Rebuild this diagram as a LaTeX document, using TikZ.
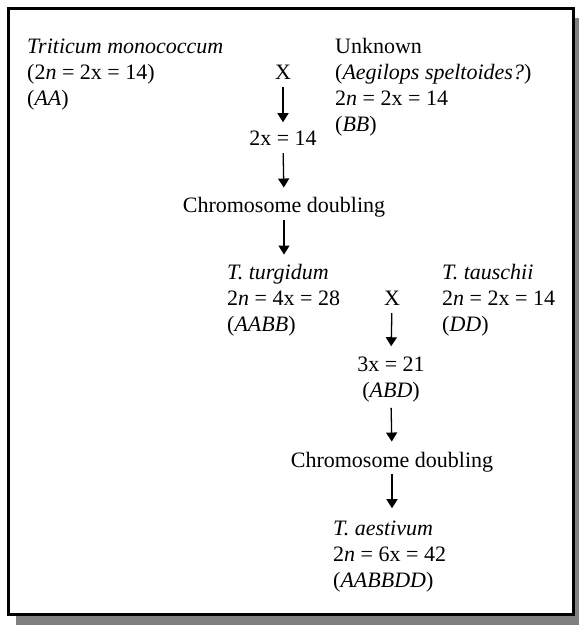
\documentclass[tikz,border=0pt]{standalone}
\usepackage{fontspec}
\setmainfont{Liberation Serif}
\usetikzlibrary{arrows.meta}
\begin{document}
\begin{tikzpicture}[x=1pt,y=-1pt,
  lbl/.style={inner sep=0pt, font=\fontsize{22}{26}\selectfont},
  grp/.style={lbl, align=left, anchor=base west},
  cgrp/.style={lbl, align=center, anchor=base},
  arr/.style={-{Triangle[width=11pt,length=9pt]}, line width=1.3pt},
]
\useasboundingbox (0,0) rectangle (579,625);
\fill[gray] (16,18) rectangle (579,625);
\draw[line width=3pt, fill=white] (8.5,8.5) rectangle (573,614.5);

% multi-line nodes: base anchor is the baseline of the last line
\node[grp] (mono) at (27,105) {\textit{Triticum monococcum}\\(2\textit{n} = 2x = 14)\\(\textit{AA})};
\node[grp] (unk) at (335,131) {Unknown\\(\textit{Aegilops speltoides?})\\2\textit{n} = 2x = 14\\(\textit{BB})};
\node[cgrp] (x1) at (283,79) {X};
\node[cgrp] (h1) at (283,145) {2x = 14};
\node[cgrp] (cd1) at (284,212) {Chromosome doubling};
\node[grp] (turg) at (227,331) {\textit{T. turgidum}\\2\textit{n} = 4x = 28\\(\textit{AABB})};
\node[cgrp] (x2) at (392,305) {X};
\node[grp] (taus) at (442,331) {\textit{T. tauschii}\\2\textit{n} = 2x = 14\\(\textit{DD})};
\node[cgrp] (h2) at (391,397) {3x = 21\\(\textit{ABD})};
\node[cgrp] (cd2) at (392,467) {Chromosome doubling};
\node[grp] (aest) at (333,587) {\textit{T. aestivum}\\2\textit{n} = 6x = 42\\(\textit{AABBDD})};

\draw[arr, shorten <=8pt, shorten >=8pt] (x1.south) -- (h1.north);
\draw[arr, shorten <=8pt, shorten >=9pt] (h1.south) -- (cd1.north);
\draw[arr, shorten <=3pt, shorten >=9pt] (cd1.south) -- (cd1.south |- turg.north);
\draw[arr, shorten <=8pt, shorten >=10pt] (x2.south) -- (h2.north);
\draw[arr, shorten <=6pt, shorten >=10pt] (h2.south) -- (cd2.north);
\draw[arr, shorten <=2pt, shorten >=12pt] (cd2.south) -- (cd2.south |- aest.north);
\end{tikzpicture}
\end{document}
